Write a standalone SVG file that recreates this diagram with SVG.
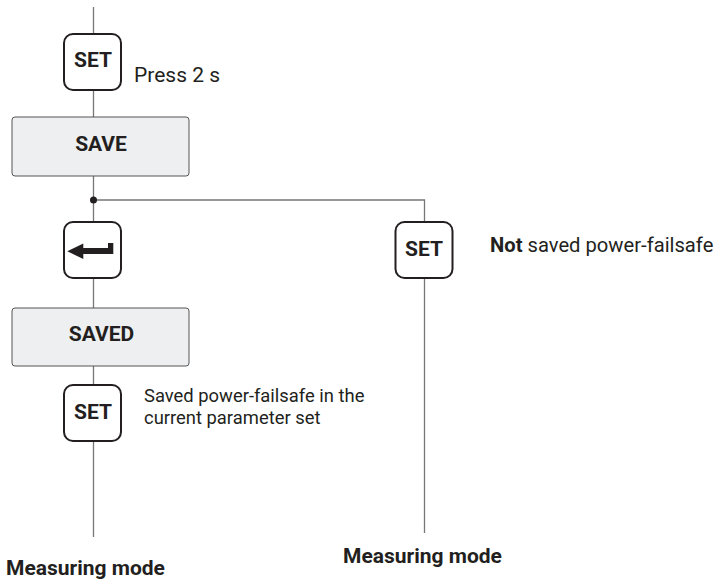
<svg xmlns="http://www.w3.org/2000/svg" width="727" height="582" viewBox="0 0 727 582">
<style>
text{font-family:Roboto,"Liberation Sans",sans-serif;fill:#231f20}
.b{font-weight:bold}
.key{fill:#fff;stroke:#231f20;stroke-width:2}
.box{fill:#eeeff1;stroke:#555;stroke-width:1}
.ln{stroke:#777;stroke-width:1.3;fill:none}
.kt{font-size:21px;font-weight:bold;text-anchor:middle}
.bt{font-size:21px;font-weight:bold;text-anchor:middle}
.lbl{font-size:18.4px}
</style>
<rect width="727" height="582" fill="#fff"/>
<g id="connectors">
<line class="ln" x1="93.5" y1="7" x2="93.5" y2="537"/>
<polyline class="ln" points="93.5,200 424.5,200 424.5,533"/>
<circle cx="93.5" cy="200" r="3.5" fill="#231f20"/>
</g>
<g id="set1">
<rect class="key" x="64" y="34" width="57" height="56" rx="9"/>
<text class="kt" x="93" y="67">SET</text>
<text x="134" y="82" style="font-size:21px">Press 2 s</text>
</g>
<g id="save">
<rect class="box" x="12" y="117" width="177" height="59" rx="3"/>
<text class="bt" x="101" y="151">SAVE</text>
</g>
<g id="enter">
<rect class="key" x="64" y="222" width="57" height="56" rx="9"/>
<path d="M67.3,251.3 L83.3,243.5 L83.3,248 L108,248 L108,243 L113.3,243 L113.3,254 L83.3,254 L83.3,259 Z" fill="#231f20"/>
</g>
<g id="saved">
<rect class="box" x="12" y="308" width="177" height="58" rx="3"/>
<text class="bt" x="101.5" y="341">SAVED</text>
</g>
<g id="set3">
<rect class="key" x="64" y="385" width="57" height="56" rx="9"/>
<text class="kt" x="93" y="419">SET</text>
<text class="lbl" x="144" y="402">Saved power-failsafe in the</text>
<text class="lbl" x="144" y="423.5">current parameter set</text>
</g>
<g id="set2">
<rect class="key" x="395.5" y="222" width="57" height="56" rx="9"/>
<text class="kt" x="424" y="256">SET</text>
<text x="490" y="252" style="font-size:20.2px"><tspan class="b">Not</tspan> saved power-failsafe</text>
</g>
<g id="end1">
<text class="b" x="6" y="575" style="font-size:21px">Measuring mode</text>
</g>
<g id="end2">
<text class="b" x="343" y="563" style="font-size:21px">Measuring mode</text>
</g>
</svg>
